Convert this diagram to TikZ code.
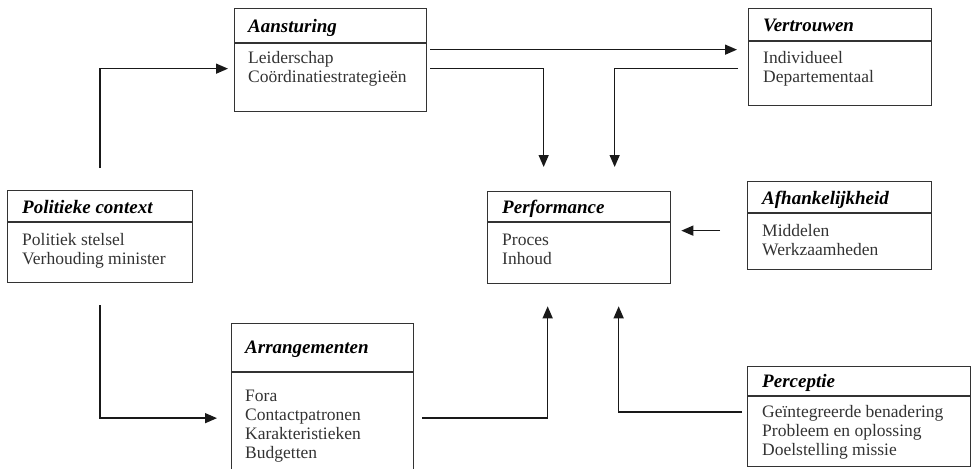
\documentclass[tikz,border=0pt]{standalone}
\usepackage{fontspec}
\setmainfont{Liberation Serif}
\usetikzlibrary{arrows.meta,calc}

\tikzset{
  box/.style={draw=black!80, line width=1.3pt, inner sep=0pt, anchor=north west},
  hdr/.style={draw=black!80, line width=1.3pt},
  ttl/.style={anchor=base west, inner sep=0pt, font=\fontsize{19}{21}\selectfont\bfseries\itshape},
  % body text is anchored at the baseline of its last line
  body/.style={anchor=base west, inner sep=0pt, align=left, text=black!80,
               font=\fontsize{17.5}{19}\selectfont},
  link/.style={draw=black!90, line width=1.4pt, -{Triangle[length=12pt,width=10pt]}}
}

\begin{document}
\begin{tikzpicture}[x=1pt, y=-1pt]
\useasboundingbox (0,0) rectangle (973,468);

% ---------- boxes ----------
% Politieke context
\node[box, minimum width=185pt, minimum height=92pt] (pol) at (7,190) {};
\draw[hdr] (pol.west |- 0,222) -- (pol.east |- 0,222);
\node[ttl] (polT) at (22,213) {Politieke context};
\node[body] (polB) at (22,264) {Politiek stelsel\\Verhouding minister};

% Aansturing
\node[box, minimum width=192pt, minimum height=103pt] (ans) at (234,8) {};
\draw[hdr] (ans.west |- 0,43) -- (ans.east |- 0,43);
\node[ttl] (ansT) at (248,33) {Aansturing};
\node[body] (ansB) at (248,83) {Leiderschap\\Coördinatiestrategieën};

% Vertrouwen
\node[box, minimum width=183pt, minimum height=97pt] (ver) at (748,8) {};
\draw[hdr] (ver.west |- 0,41) -- (ver.east |- 0,41);
\node[ttl] (verT) at (763,32) {Vertrouwen};
\node[body] (verB) at (763,83) {Individueel\\Departementaal};

% Performance
\node[box, minimum width=183pt, minimum height=92pt] (perf) at (487,191) {};
\draw[hdr] (perf.west |- 0,222) -- (perf.east |- 0,222);
\node[ttl] (perfT) at (502,213) {Performance};
\node[body] (perfB) at (502,264) {Proces\\Inhoud};

% Afhankelijkheid
\node[box, minimum width=184pt, minimum height=88pt] (afh) at (747,181) {};
\draw[hdr] (afh.west |- 0,213) -- (afh.east |- 0,213);
\node[ttl] (afhT) at (762,204) {Afhankelijkheid};
\node[body] (afhB) at (762,255) {Middelen\\Werkzaamheden};

% Arrangementen (runs past the lower edge)
\node[box, minimum width=182pt, minimum height=160pt] (arr) at (231,323) {};
\draw[hdr] (arr.west |- 0,372) -- (arr.east |- 0,372);
\node[ttl] (arrT) at (245,353) {Arrangementen};
\node[body] (arrB) at (245,458) {Fora\\Contactpatronen\\Karakteristieken\\Budgetten};

% Perceptie
\node[box, minimum width=223pt, minimum height=100pt] (per) at (747,366) {};
\draw[hdr] (per.west |- 0,396) -- (per.east |- 0,396);
\node[ttl] (perT) at (762,387) {Perceptie};
\node[body] (perB) at (762,455) {Geïntegreerde benadering\\Probleem en oplossing\\Doelstelling missie};

% ---------- connector ends ----------
\coordinate (polUp)   at ($(pol.north)+(0,-22)$);
\coordinate (polDown) at ($(pol.south)+(0,22)$);
\coordinate (ansIn)   at ($(ans.west)+(-6,8.5)$);
\coordinate (arrIn)   at ($(arr.west)+(-14,14.5)$);
\coordinate (ansOutA) at ($(ans.east)+(3,-10.5)$);
\coordinate (ansOutB) at ($(ans.east)+(3,8.5)$);
\coordinate (verIn)   at ($(ver.west)+(-11,-7.5)$);
\coordinate (verOut)  at ($(ver.west)+(-10,11.5)$);
\coordinate (perfTopL) at ($(perf.north)+(-35.5,-24)$);
\coordinate (perfTopR) at ($(perf.north)+(35.5,-24)$);
\coordinate (afhOut)  at ($(afh.west)+(-27,5)$);
\coordinate (perfRt)  at ($(perf.east)+(10,-7)$);
\coordinate (arrOut)  at ($(arr.east)+(8,14.5)$);
\coordinate (perfBotL) at ($(perf.south)+(-31.5,22)$);
\coordinate (perfBotR) at ($(perf.south)+(39.5,22)$);
\coordinate (perOut)  at (742,412);

% ---------- connectors ----------
\draw[link] (polUp) |- (ansIn);
\draw[link] (polDown) |- (arrIn);
\draw[link] (ansOutA) -- (verIn);
\draw[link] (ansOutB) -| (perfTopL);
\draw[link] (verOut) -| (perfTopR);
\draw[link] (afhOut) -- (perfRt);
\draw[link] (arrOut) -| (perfBotL);
\draw[link] (perOut) -| (perfBotR);
\end{tikzpicture}
\end{document}
